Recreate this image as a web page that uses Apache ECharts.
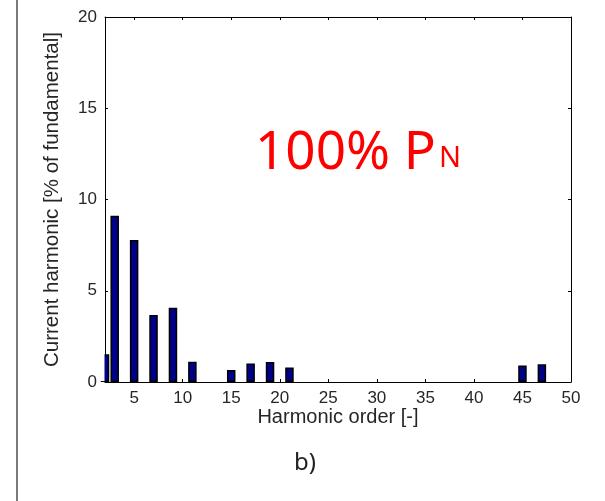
<!DOCTYPE html>
<html>
<head>
<meta charset="utf-8">
<script src="https://cdn.jsdelivr.net/npm/echarts@6/dist/echarts.min.js"></script>
<style>
html,body{margin:0;padding:0;background:#fff;}
#chart{width:605px;height:501px;}
</style>
</head>
<body>
<div id="chart"></div>
<script>
// Harmonic orders and current harmonic values [% of fundamental]
const orders = [2, 3, 5, 7, 9, 11, 15, 17, 19, 21, 45, 47];
const values = [1.52, 9.11, 7.78, 3.67, 4.07, 1.11, 0.66, 1.02, 1.10, 0.80, 0.90, 0.97];
const xTicks = [5, 10, 15, 20, 25, 30, 35, 40, 45, 50];
const yTicks = [0, 5, 10, 15, 20];
const xTitle = 'Harmonic order [-]';
const yTitle = 'Current harmonic [% of fundamental]';
const annotation = '100% P';
const annotationSub = 'N';
const panelLabel = 'b)';

const chart = echarts.init(document.getElementById('chart'), null, {renderer: 'canvas'});
const labelFont = {fontFamily: 'Liberation Sans', fontSize: 17, color: '#262626'};
const axisLineStyle = {color: '#000', width: 1};

const option = {
  backgroundColor: '#fff',
  animation: false,
  grid: {left: 105, right: 34, top: 17, bottom: 119},
  xAxis: [{
    type: 'value', min: 2, max: 50, position: 'bottom',
    name: xTitle, nameLocation: 'middle', nameGap: 25, nameMoveOverlap: false,
    nameTextStyle: {fontFamily: 'Liberation Sans', fontSize: 20, color: '#262626', verticalAlign: 'top'},
    axisLine: {show: true, onZero: false, lineStyle: axisLineStyle},
    axisTick: {show: true, inside: true, length: 3, customValues: xTicks, lineStyle: axisLineStyle},
    axisLabel: Object.assign({customValues: xTicks, margin: 8}, labelFont),
    splitLine: {show: false}
  }, {
    type: 'value', min: 2, max: 50, position: 'top',
    axisLine: {show: true, onZero: false, lineStyle: axisLineStyle},
    axisTick: {show: true, inside: true, length: 3, customValues: xTicks, lineStyle: axisLineStyle},
    axisLabel: {show: false},
    splitLine: {show: false}
  }],
  yAxis: [{
    type: 'value', min: 0, max: 20, interval: 5, position: 'left',
    name: yTitle, nameLocation: 'middle', nameGap: 42, nameMoveOverlap: false,
    nameTextStyle: {fontFamily: 'Liberation Sans', fontSize: 20.5, color: '#262626'},
    axisLine: {show: true, onZero: false, lineStyle: axisLineStyle},
    axisTick: {show: true, inside: true, length: 3, lineStyle: axisLineStyle},
    axisLabel: Object.assign({margin: 8}, labelFont),
    splitLine: {show: false}
  }, {
    type: 'value', min: 0, max: 20, interval: 5, position: 'right',
    axisLine: {show: true, onZero: false, lineStyle: axisLineStyle},
    axisTick: {show: true, inside: true, length: 3, lineStyle: axisLineStyle},
    axisLabel: {show: false},
    splitLine: {show: false}
  }],
  series: [{
    type: 'bar',
    xAxisIndex: 0, yAxisIndex: 0,
    clip: true,
    barWidth: 8.5,
    z: 2,
    data: orders.map((o, i) => [o, values[i]]),
    itemStyle: {color: '#000088', borderColor: '#000', borderWidth: 1.5}
  }],
  graphic: [
    // white mask outside the plotting area (left of the y axis) so the bar at the edge is clipped
    {type: 'rect', z: 5, shape: {x: 98, y: 300, width: 6.5, height: 81}, style: {fill: '#fff'}},
    {type: 'line', shape: {x1: 17, y1: 0, x2: 17, y2: 501}, style: {stroke: '#222', lineWidth: 1.2}},
    {type: 'text', left: 255, top: 127, style: {text: annotation, fontFamily: 'Noto Sans', fontSize: 53, fill: '#ff0000'}},
    {type: 'text', left: 439, top: 144, style: {text: annotationSub, fontFamily: 'Noto Sans', fontSize: 29, fill: '#ff0000'}},
    {type: 'text', left: 294, top: 451, style: {text: panelLabel, fontFamily: 'Noto Sans', fontSize: 24, fill: '#222'}}
  ]
};
chart.setOption(option);
</script>
</body>
</html>
